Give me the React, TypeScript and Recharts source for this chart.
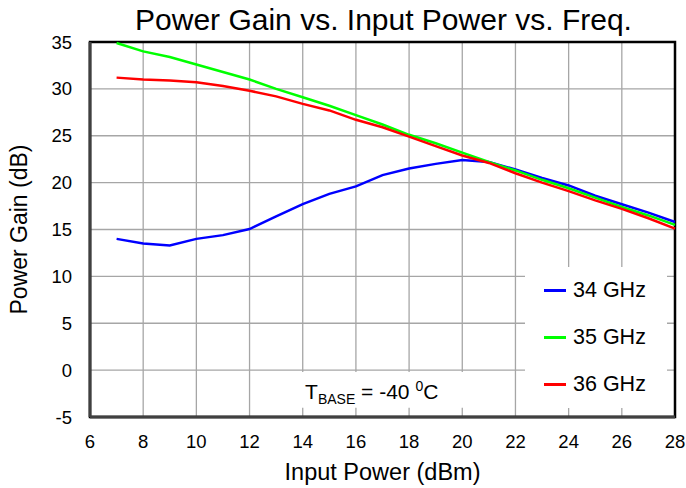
import React from 'react';
import {
  LineChart,
  Line,
  XAxis,
  YAxis,
  CartesianGrid,
  Legend,
  ReferenceArea,
} from 'recharts';

// Input power (dBm)
const inputPower = [7, 8, 9, 10, 11, 12, 13, 14, 15, 16, 17, 18, 19, 20, 21, 22, 23, 24, 25, 26, 27, 28];

// Power gain (dB) per frequency
const gain34 = [14.0, 13.5, 13.3, 14.0, 14.4, 15.05, 16.4, 17.7, 18.8, 19.6, 20.8, 21.5, 22.0, 22.4, 22.2, 21.4, 20.5, 19.7, 18.6, 17.7, 16.8, 15.8];
const gain35 = [34.9, 34.0, 33.4, 32.6, 31.8, 31.0, 30.0, 29.1, 28.2, 27.2, 26.2, 25.1, 24.2, 23.2, 22.2, 21.3, 20.3, 19.4, 18.4, 17.4, 16.5, 15.5];
const gain36 = [31.2, 31.0, 30.9, 30.7, 30.3, 29.8, 29.2, 28.4, 27.7, 26.7, 25.9, 24.9, 23.9, 22.9, 22.1, 21.0, 20.0, 19.1, 18.1, 17.2, 16.2, 15.1];

const xTicks = [6, 8, 10, 12, 14, 16, 18, 20, 22, 24, 26, 28];
const yTicks = [-5, 0, 5, 10, 15, 20, 25, 30, 35];

const series = [
  { key: 'g34', name: '34 GHz', color: '#0000ff' },
  { key: 'g35', name: '35 GHz', color: '#00ff00' },
  { key: 'g36', name: '36 GHz', color: '#ff0000' },
];

const data = inputPower.map((p, i) => ({
  pin: p,
  g34: gain34[i],
  g35: gain35[i],
  g36: gain36[i],
}));

const FONT = '"Liberation Sans", Arial, sans-serif';

const FreqLegend = () => (
  <div
    style={{
      width: '100%',
      height: '100%',
      background: '#fff',
      display: 'flex',
      flexDirection: 'column',
      justifyContent: 'space-around',
      padding: '0 0 0 19px',
      boxSizing: 'border-box',
      fontFamily: FONT,
      fontSize: 21.5,
      color: '#000',
    }}
  >
    {series.map((s) => (
      <div key={s.key} style={{ display: 'flex', alignItems: 'center' }}>
        <span style={{ display: 'inline-block', width: 22, height: 3, background: s.color, marginRight: 7 }} />
        <span>{s.name}</span>
      </div>
    ))}
  </div>
);

const TBaseLabel = (props: any) => {
  const vb = props.viewBox || { x: 0, y: 0 };
  return (
    <text x={vb.x + 9} y={vb.y + 27} fontFamily={FONT} fontSize={21} fill="#000">
      <tspan>T</tspan>
      <tspan fontSize={14} dy={5}>BASE</tspan>
      <tspan fontSize={21} dy={-5}> = -40 </tspan>
      <tspan fontSize={14} dy={-8}>0</tspan>
      <tspan fontSize={21} dy={8}>C</tspan>
    </text>
  );
};

export default function App() {
  return (
    <div style={{ position: 'absolute', left: 0, top: 0, width: 686, height: 488, background: '#fff' }}>
      <div
        style={{
          position: 'absolute',
          left: 90,
          width: 587,
          top: 3,
          textAlign: 'center',
          fontFamily: FONT,
          fontSize: 30,
          color: '#000',
          zIndex: 2,
        }}
      >
        Power Gain vs. Input Power vs. Freq.
      </div>
      <LineChart
        width={686}
        height={488}
        data={data}
        margin={{ top: 42, right: 11, bottom: 5, left: 0 }}
        style={{ fontFamily: FONT }}
      >
        <CartesianGrid stroke="#a6a6a6" strokeWidth={1.3} />
        <XAxis
          dataKey="pin"
          type="number"
          domain={[6, 28]}
          ticks={xTicks}
          height={66}
          tickSize={0}
          tickMargin={18}
          axisLine={{ stroke: '#404040', strokeWidth: 3 }}
          tick={{ fill: '#000', fontSize: 18.5 }}
          label={{ value: 'Input Power (dBm)', position: 'insideBottom', offset: 3, fill: '#000', fontSize: 23.5 }}
        />
        <YAxis
          type="number"
          domain={[-5, 35]}
          ticks={yTicks}
          width={90}
          tickSize={0}
          tickMargin={18}
          axisLine={{ stroke: '#404040', strokeWidth: 3 }}
          tick={{ fill: '#000', fontSize: 18.5 }}
          label={{
            value: 'Power Gain (dB)',
            angle: -90,
            position: 'insideLeft',
            offset: 19,
            fill: '#000',
            fontSize: 23,
            style: { textAnchor: 'middle' },
          }}
        />
        <ReferenceArea
          x1={6}
          x2={28}
          y1={-5}
          y2={35}
          fill="none"
          stroke="#000"
          strokeWidth={2.5}
          ifOverflow="visible"
        />
        <ReferenceArea
          x1={13.75}
          x2={21.8}
          y1={-4}
          y2={-0.2}
          fill="#fff"
          fillOpacity={1}
          stroke="none"
          label={<TBaseLabel />}
        />
        {series.map((s) => (
          <Line
            key={s.key}
            type="linear"
            dataKey={s.key}
            name={s.name}
            stroke={s.color}
            strokeWidth={2.5}
            dot={false}
            isAnimationActive={false}
          />
        ))}
        <Legend
          layout="vertical"
          align="center"
          verticalAlign="middle"
          content={<FreqLegend />}
          wrapperStyle={{ left: 525, top: 267, width: 142, height: 141 }}
        />
      </LineChart>
    </div>
  );
}
